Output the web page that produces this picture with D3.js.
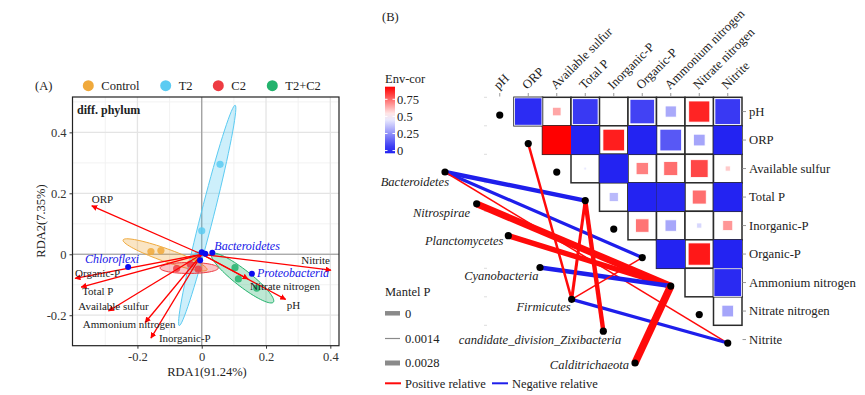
<!DOCTYPE html>
<html>
<head>
<meta charset="utf-8">
<script src="https://cdn.jsdelivr.net/npm/d3@7"></script>
<style>
body { margin: 0; background: #fff; }
svg text { font-family: "Liberation Serif", "Times New Roman", serif; fill: #222; }
</style>
</head>
<body>
<svg id="chart" width="865" height="395"></svg>
<script>
// ---------- Panel A: RDA biplot ----------
const groups = ["Control", "T2", "C2", "T2+C2"];
const groupColors = ["#F0A93B", "#5BCBF2", "#EE3B42", "#23B36D"];

// sample scores (group, RDA1, RDA2)
const sampleGroup = ["Control", "Control", "Control", "T2", "T2", "T2", "C2", "C2", "C2", "T2+C2", "T2+C2", "T2+C2"];
const sampleRDA1 = [-0.158, -0.127, -0.02, 0.057, 0.0, -0.012, -0.078, -0.011, -0.036, 0.1035, 0.114, 0.171];
const sampleRDA2 = [0.009, 0.012, -0.012, 0.295, 0.077, -0.002, -0.047, -0.049, -0.032, -0.044, -0.081, -0.111];

// group ellipses: centre, half major axis vector, half minor length (data units)
const ellCX = [-0.114, 0.017, -0.039, 0.127];
const ellCY = [-0.002, 0.1275, -0.045, -0.078];
const ellAX = [0.1305, 0.087, 0.0907, 0.0957];
const ellAY = [-0.049, 0.3616, 0.0, -0.0793];
const ellMinor = [0.021, 0.02, 0.018, 0.026];

// environmental arrows
const envArrowNames = ["ORP", "Nitrite", "Organic-P", "Total P", "Available sulfur", "Ammonium nitrogen", "Inorganic-P", "pH", "Nitrate nitrogen"];
const envRDA1 = [-0.342, 0.402, -0.394, -0.375, -0.29, -0.176, -0.158, 0.261, 0.144];
const envRDA2 = [0.159, -0.052, -0.079, -0.108, -0.186, -0.224, -0.275, -0.148, -0.081];

// species (phylum) scores
const phylaA = ["Chloroflexi", "Bacteroidetes", "Proteobacteria"];
const phylaRDA1 = [-0.229, 0.033, 0.156];
const phylaRDA2 = [-0.042, 0.005, -0.064];
const otherPhylaRDA1 = [0.0, 0.011, -0.005];
const otherPhylaRDA2 = [0.007, 0.002, -0.02];

const xTicksA = [-0.2, 0, 0.2, 0.4];
const yTicksA = [-0.2, 0, 0.2, 0.4];

// ---------- Panel B: correlation heatmap + Mantel links ----------
const envVars = ["pH", "ORP", "Available sulfur", "Total P", "Inorganic-P", "Organic-P", "Ammonium nitrogen", "Nitrate nitrogen", "Nitrite"];
// upper triangle (row i, columns j > i)
const envCor = [
    [0.02, 0.65, 0.05, 0.5, 0.07, 0.305, 0.87, 0.05],
    [1.0, 0.0, 0.88, 0.0, 0.12, 0.295, 0.0],
    [0.45, 0.0, 0.715, 0.745, 0.81, 0.59],
    [0.34, 0.0, 0.01, 0.745, 0.0],
    [0.735, 0.3, 0.41, 0.675],
    [0.0, 0.89, 0.0],
    [0.515, 0.015],
    [0.295]
];
const corLegendTicks = [0, 0.25, 0.5, 0.75];

const phylaB = ["Bacteroidetes", "Nitrospirae", "Planctomycetes", "Cyanobacteria", "Firmicutes", "candidate_division_Zixibacteria", "Calditrichaeota"];
const mantelFrom = ["Bacteroidetes", "Bacteroidetes", "Bacteroidetes", "Nitrospirae", "Planctomycetes", "Cyanobacteria", "Firmicutes", "Firmicutes", "Firmicutes", "Firmicutes", "candidate_division_Zixibacteria", "Calditrichaeota"];
const mantelTo = ["Total P", "Organic-P", "Nitrite", "Ammonium nitrogen", "Ammonium nitrogen", "Ammonium nitrogen", "ORP", "Total P", "Organic-P", "Nitrite", "Total P", "Ammonium nitrogen"];
const mantelR = [0.5, 0.38, 0.2, 0.75, 0.6, 0.5, 0.3, 0.36, 0.2, 0.38, 0.5, 0.82];
const mantelSign = ["neg", "neg", "pos", "pos", "pos", "neg", "pos", "pos", "pos", "neg", "pos", "pos"];
const mantelPLabels = ["0", "0.0014", "0.0028"];

const svg = d3.select("#chart");

// ================= Panel A =================
const xA = d3.scaleLinear().domain([-0.402, 0.427]).range([72.5, 339]);
const yA = d3.scaleLinear().domain([-0.30, 0.516]).range([345.7, 97]);
const colorA = d3.scaleOrdinal().domain(groups).range(groupColors);

const gA = svg.append("g");

// grid
const minorX = [-0.3, -0.1, 0.1, 0.3];
const minorY = [-0.1, 0.1, 0.3, 0.5];
gA.selectAll(".mx").data(minorX).join("line")
    .attr("x1", d => xA(d)).attr("x2", d => xA(d)).attr("y1", 97).attr("y2", 345.7)
    .attr("stroke", "#F0F0F0").attr("stroke-width", 0.9);
gA.selectAll(".my").data(minorY).join("line")
    .attr("y1", d => yA(d)).attr("y2", d => yA(d)).attr("x1", 72.5).attr("x2", 339)
    .attr("stroke", "#F0F0F0").attr("stroke-width", 0.9);
gA.selectAll(".gx").data(xTicksA).join("line")
    .attr("x1", d => xA(d)).attr("x2", d => xA(d)).attr("y1", 97).attr("y2", 345.7)
    .attr("stroke", "#E4E4E4").attr("stroke-width", 1.3);
gA.selectAll(".gy").data(yTicksA).join("line")
    .attr("y1", d => yA(d)).attr("y2", d => yA(d)).attr("x1", 72.5).attr("x2", 339)
    .attr("stroke", "#E4E4E4").attr("stroke-width", 1.3);

// zero lines
gA.append("line").attr("x1", xA(0)).attr("x2", xA(0)).attr("y1", 97).attr("y2", 345.7)
    .attr("stroke", "#9A9A9A").attr("stroke-width", 1.2);
gA.append("line").attr("y1", yA(0)).attr("y2", yA(0)).attr("x1", 72.5).attr("x2", 339)
    .attr("stroke", "#9A9A9A").attr("stroke-width", 1.2);

// ellipses
const ellLine = d3.line().curve(d3.curveLinearClosed);
groups.forEach((g, i) => {
    const len = Math.hypot(ellAX[i], ellAY[i]);
    const bx = -ellAY[i] / len * ellMinor[i];
    const by = ellAX[i] / len * ellMinor[i];
    const pts = d3.range(0, 72).map(k => {
        const t = k / 72 * 2 * Math.PI;
        return [xA(ellCX[i] + Math.cos(t) * ellAX[i] + Math.sin(t) * bx),
                yA(ellCY[i] + Math.cos(t) * ellAY[i] + Math.sin(t) * by)];
    });
    gA.append("path").attr("d", ellLine(pts))
        .attr("fill", groupColors[i]).attr("fill-opacity", 0.3)
        .attr("stroke", groupColors[i]).attr("stroke-width", 1);
});

// samples
gA.selectAll(".smp").data(sampleGroup).join("circle")
    .attr("cx", (d, i) => xA(sampleRDA1[i])).attr("cy", (d, i) => yA(sampleRDA2[i]))
    .attr("r", 3.6).attr("fill", d => colorA(d)).attr("opacity", 0.85);

// arrows
svg.append("defs").append("marker")
    .attr("id", "arr").attr("viewBox", "0 0 10 10").attr("refX", 9).attr("refY", 5)
    .attr("markerWidth", 6).attr("markerHeight", 6).attr("markerUnits", "userSpaceOnUse")
    .attr("orient", "auto")
    .append("path").attr("d", "M0,0 L10,5 L0,10 z").attr("fill", "#FF0000");

gA.selectAll(".arw").data(envArrowNames).join("line")
    .attr("x1", xA(0)).attr("y1", yA(0))
    .attr("x2", (d, i) => xA(envRDA1[i])).attr("y2", (d, i) => yA(envRDA2[i]))
    .attr("stroke", "#FF0000").attr("stroke-width", 1.3)
    .attr("marker-end", "url(#arr)");

// arrow label placement (pixel offsets from arrow tip)
const envLabelDX = [0, -1, 0, 1, 5, -16, 8, 1, 2];
const envLabelDY = [-7, -10, -5, 4, -5, 1.5, 0, 6, 7];
const envLabelAnchor = ["start", "end", "start", "start", "middle", "middle", "start", "start", "start"];
gA.selectAll(".arl").data(envArrowNames).join("text")
    .attr("x", (d, i) => xA(envRDA1[i]) + envLabelDX[i])
    .attr("y", (d, i) => yA(envRDA2[i]) + envLabelDY[i])
    .attr("dy", "0.35em").attr("text-anchor", (d, i) => envLabelAnchor[i])
    .attr("font-size", 11).text(d => d);

// phyla points
gA.selectAll(".oph").data(otherPhylaRDA1).join("circle")
    .attr("cx", d => xA(d)).attr("cy", (d, i) => yA(otherPhylaRDA2[i]))
    .attr("r", 3).attr("fill", "#0A0AF0");
gA.selectAll(".ph").data(phylaA).join("circle")
    .attr("cx", (d, i) => xA(phylaRDA1[i])).attr("cy", (d, i) => yA(phylaRDA2[i]))
    .attr("r", 3).attr("fill", "#0A0AF0");
const phylaLabelDX = [11, 2, 5];
const phylaLabelDY = [-8, -6.5, -0.5];
const phylaLabelAnchor = ["end", "start", "start"];
gA.selectAll(".phl").data(phylaA).join("text")
    .attr("x", (d, i) => xA(phylaRDA1[i]) + phylaLabelDX[i])
    .attr("y", (d, i) => yA(phylaRDA2[i]) + phylaLabelDY[i])
    .attr("dy", "0.35em").attr("text-anchor", (d, i) => phylaLabelAnchor[i])
    .attr("font-size", 12).attr("font-style", "italic").style("fill", "#1515E8")
    .text(d => d);

// border
gA.append("rect").attr("x", 72.5).attr("y", 97).attr("width", 339 - 72.5).attr("height", 345.7 - 97)
    .attr("fill", "none").attr("stroke", "#222").attr("stroke-width", 1.2);

// axes
const axB = gA.append("g").attr("transform", "translate(0,345.7)")
    .call(d3.axisBottom(xA).tickValues(xTicksA).tickFormat(d => String(d)).tickSize(3).tickPadding(3));
const axL = gA.append("g").attr("transform", "translate(72.5,0)")
    .call(d3.axisLeft(yA).tickValues(yTicksA).tickFormat(d => String(d)).tickSize(3).tickPadding(3));
[axB, axL].forEach(a => {
    a.select(".domain").remove();
    a.selectAll("line").attr("stroke", "#333");
    a.selectAll("text").attr("font-size", 12.5).attr("font-family", "Liberation Serif").style("fill", "#333");
});

gA.append("text").attr("x", 207).attr("y", 372).attr("dy", "0.35em").attr("text-anchor", "middle")
    .attr("font-size", 12.5).text("RDA1(91.24%)");
gA.append("text").attr("transform", "translate(45,221) rotate(-90)").attr("text-anchor", "middle")
    .attr("font-size", 12.5).text("RDA2(7.35%)");
gA.append("text").attr("x", 77).attr("y", 110).attr("dy", "0.35em")
    .attr("font-size", 12).attr("font-weight", "bold").text("diff. phylum");

// legend A
gA.append("text").attr("x", 35).attr("y", 86).attr("dy", "0.35em").attr("font-size", 12.5).text("(A)");
const legX = [88.3, 165.7, 218.3, 272.3];
groups.forEach((g, i) => {
    gA.append("circle").attr("cx", legX[i]).attr("cy", 85.7).attr("r", 5.5).attr("fill", groupColors[i]);
    gA.append("text").attr("x", legX[i] + 13).attr("y", 86).attr("dy", "0.35em")
        .attr("font-size", 12.5).text(g);
});

// ================= Panel B =================
const gB = svg.append("g");
const xB = d3.scaleBand().domain(envVars).range([485.5, 742]);
const yB = d3.scaleBand().domain(envVars).range([97.3, 97.3 + 9 * 28.5]);
const bw = xB.bandwidth();
const corColor = d3.scaleLinear().domain([0, 0.5, 0.93]).range(["#2323F2", "#FFFFFF", "#FF0000"]).clamp(true);

gB.append("text").attr("x", 382).attr("y", 17).attr("dy", "0.35em").attr("font-size", 12.5).text("(B)");

const cells = [];
envCor.forEach((row, i) => row.forEach((v, k) => cells.push({ r: envVars[i], c: envVars[i + k + 1], v })));

// faint left ticks
gB.selectAll(".lt").data(envVars.slice(0, 9)).join("line")
    .attr("x1", 484).attr("x2", 487).attr("y1", d => yB(d)).attr("y2", d => yB(d))
    .attr("stroke", "#DDD").attr("stroke-width", 1);

gB.selectAll(".cell").data(cells).join("rect")
    .attr("x", d => xB(d.c)).attr("y", d => yB(d.r)).attr("width", bw).attr("height", bw)
    .attr("fill", "#fff").attr("stroke", "#2A2A2A").attr("stroke-width", 1.5);

gB.selectAll(".sq").data(cells).join("rect")
    .attr("x", d => xB(d.c) + bw / 2 - bw * Math.min(1, Math.abs(d.v - 0.5) * 2) / 2)
    .attr("y", d => yB(d.r) + bw / 2 - bw * Math.min(1, Math.abs(d.v - 0.5) * 2) / 2)
    .attr("width", d => bw * Math.min(1, Math.abs(d.v - 0.5) * 2))
    .attr("height", d => bw * Math.min(1, Math.abs(d.v - 0.5) * 2))
    .attr("fill", d => corColor(d.v))
    .attr("stroke", d => Math.abs(d.v - 0.5) * 2 > 0.97 ? "none" : "#fff")
    .attr("stroke-width", 0.8);

// column ticks & labels
gB.selectAll(".ct").data(envVars).join("line")
    .attr("x1", d => xB(d) + bw / 2).attr("x2", d => xB(d) + bw / 2).attr("y1", 93).attr("y2", 96.5)
    .attr("stroke", "#999");
gB.selectAll(".cl").data(envVars).join("text")
    .attr("transform", d => `translate(${xB(d) + bw / 2 - 1},90) rotate(-45)`)
    .attr("font-size", 12.7).text(d => d);

// row ticks & labels
gB.selectAll(".rt").data(envVars).join("line")
    .attr("x1", 742.5).attr("x2", 746).attr("y1", d => yB(d) + bw / 2).attr("y2", d => yB(d) + bw / 2)
    .attr("stroke", "#999");
gB.selectAll(".rl").data(envVars).join("text")
    .attr("x", 749).attr("y", d => yB(d) + bw / 2).attr("dy", "0.35em")
    .attr("font-size", 12.7).text(d => d);

// Mantel links
const spX = d3.scalePoint().domain(phylaB).range([445, 635]);
const spY = d3.scalePoint().domain(phylaB).range([172, 363]);
const envNodeX = d => xB(d) + bw / 2;
const envNodeY = d => yB(d) + bw / 2 + 3.5;
const widthScale = d3.scaleLinear().domain([0.2, 0.82]).range([1.5, 7.5]);

gB.selectAll(".lk").data(mantelFrom).join("line")
    .attr("x1", d => spX(d)).attr("y1", d => spY(d))
    .attr("x2", (d, i) => envNodeX(mantelTo[i])).attr("y2", (d, i) => envNodeY(mantelTo[i]))
    .attr("stroke", (d, i) => mantelSign[i] === "pos" ? "#FF0A0A" : "#1E1EEB")
    .attr("stroke-width", (d, i) => widthScale(mantelR[i]));

gB.selectAll(".en").data(envVars).join("circle")
    .attr("cx", envNodeX).attr("cy", envNodeY).attr("r", 3.6).attr("fill", "#000");
gB.selectAll(".sn").data(phylaB).join("circle")
    .attr("cx", d => spX(d)).attr("cy", d => spY(d)).attr("r", 3.6).attr("fill", "#000");

const spLabelDX = [4, -6.5, -5, -1.5, -1, 18, -6];
const spLabelDY = [10, 9, 5, 8.5, 7, 8, 2];
gB.selectAll(".sl").data(phylaB).join("text")
    .attr("x", (d, i) => spX(d) + spLabelDX[i]).attr("y", (d, i) => spY(d) + spLabelDY[i])
    .attr("dy", "0.35em").attr("text-anchor", "end")
    .attr("font-size", 12.5).attr("font-style", "italic").text(d => d);

// Env-cor legend
const defs = svg.select("defs");
const grad = defs.append("linearGradient").attr("id", "corGrad")
    .attr("x1", 0).attr("y1", 1).attr("x2", 0).attr("y2", 0);
const legY = d3.scaleLinear().domain([-0.04, 0.934]).range([153.3, 86.7]);
d3.range(0, 11).forEach(k => {
    const v = -0.04 + k / 10 * 0.974;
    grad.append("stop").attr("offset", k / 10).attr("stop-color", corColor(v));
});
gB.append("text").attr("x", 385).attr("y", 79).attr("dy", "0.35em").attr("font-size", 12.5).text("Env-cor");
gB.append("rect").attr("x", 385).attr("y", 86.7).attr("width", 10).attr("height", 153.3 - 86.7)
    .attr("fill", "url(#corGrad)");
gB.selectAll(".lgt").data(corLegendTicks).join("line")
    .attr("x1", 385).attr("x2", 387.5).attr("y1", d => legY(d)).attr("y2", d => legY(d)).attr("stroke", "#fff");
gB.selectAll(".lgt2").data(corLegendTicks).join("line")
    .attr("x1", 392.5).attr("x2", 395).attr("y1", d => legY(d)).attr("y2", d => legY(d)).attr("stroke", "#fff");
gB.selectAll(".lgl").data(corLegendTicks).join("text")
    .attr("x", 397).attr("y", d => legY(d)).attr("dy", "0.35em").attr("font-size", 12.5)
    .text(d => String(d));

// Mantel P legend
gB.append("text").attr("x", 385).attr("y", 291.5).attr("dy", "0.35em").attr("font-size", 12.5).text("Mantel P");
const mpY = [313.3, 338.5, 363];
const mpW = [4.5, 1.2, 5];
mantelPLabels.forEach((lab, i) => {
    gB.append("line").attr("x1", 385).attr("x2", 400).attr("y1", mpY[i]).attr("y2", mpY[i])
        .attr("stroke", "#8A8A8A").attr("stroke-width", mpW[i]);
    gB.append("text").attr("x", 405).attr("y", mpY[i]).attr("dy", "0.35em").attr("font-size", 12.5).text(lab);
});
gB.append("line").attr("x1", 385).attr("x2", 401).attr("y1", 383.3).attr("y2", 383.3)
    .attr("stroke", "#FF0A0A").attr("stroke-width", 2);
gB.append("text").attr("x", 405).attr("y", 383.3).attr("dy", "0.35em").attr("font-size", 12.5).text("Positive relative");
gB.append("line").attr("x1", 492).attr("x2", 508).attr("y1", 383.3).attr("y2", 383.3)
    .attr("stroke", "#1E1EEB").attr("stroke-width", 2);
gB.append("text").attr("x", 512).attr("y", 383.3).attr("dy", "0.35em").attr("font-size", 12.5).text("Negative relative");
</script>
</body>
</html>
